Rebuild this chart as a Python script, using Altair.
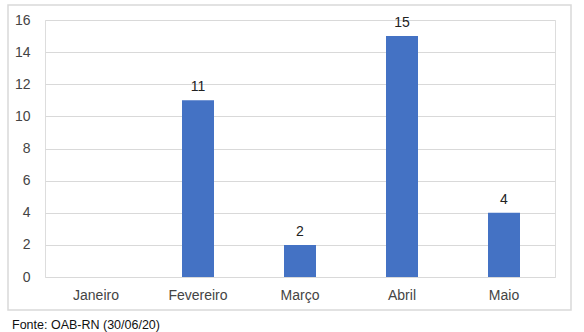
import altair as alt
import pandas as pd

months = ["Janeiro", "Fevereiro", "Março", "Abril", "Maio"]
values = [0, 11, 2, 15, 4]
y_ticks = [0, 2, 4, 6, 8, 10, 12, 14, 16]
source_note = "Fonte: OAB-RN (30/06/20)"

df = pd.DataFrame({"mes": months, "valor": values})
FONT = "Liberation Sans"

x_enc = alt.X("mes:N", sort=months, title=None,
              scale=alt.Scale(paddingInner=0, paddingOuter=0),
              axis=alt.Axis(labelAngle=0, domain=False, ticks=False, labelPadding=11,
                            labelFontSize=14, labelColor="#444444", labelFont=FONT))
y_enc = alt.Y("valor:Q", title=None,
              scale=alt.Scale(domain=[0, 16], nice=False),
              axis=alt.Axis(values=y_ticks, domain=False, ticks=False, labelPadding=15,
                            labelOverlap=False,
                            labelFontSize=14, labelColor="#444444", labelFont=FONT,
                            gridColor="#d9d9d9", gridWidth=1))

frame = alt.Chart(pd.DataFrame({"a": [0]})).mark_rect(
    fill="white", fillOpacity=0, stroke="#d9d9d9", strokeWidth=1.5
).encode(x=alt.value(-37), x2=alt.value(526), y=alt.value(-15), y2=alt.value(290))

bars = alt.Chart(df).mark_bar(size=32, color="#4472C4").encode(x=x_enc, y=y_enc)

labels = alt.Chart(df).transform_filter("datum.valor > 0").mark_text(
    baseline="alphabetic", dy=-9, fontSize=14, font=FONT, color="#222222"
).encode(x=x_enc, y=y_enc, text="valor:Q")

note = alt.Chart(pd.DataFrame({"t": [source_note]})).mark_text(
    align="left", baseline="middle", fontSize=12.5, font=FONT, color="#111111"
).encode(x=alt.value(-33), y=alt.value(305), text="t:N")

chart = alt.layer(frame, bars, labels, note).properties(
    width=510, height=257,
    autosize=alt.AutoSizeParams(type="none"),
    padding={"left": 45, "top": 20, "right": 29, "bottom": 55},
).configure_view(stroke=None).configure(background="white")

chart.save("out.html", embed_options={"renderer": "svg", "actions": False})
